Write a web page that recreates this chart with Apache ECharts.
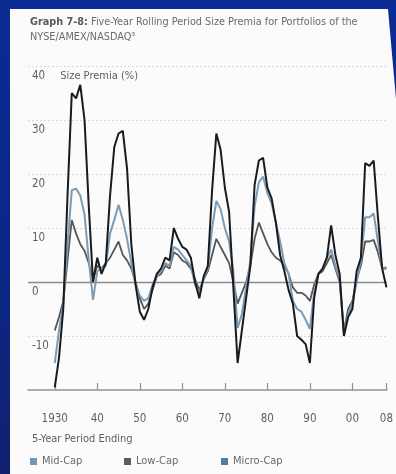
<!DOCTYPE html>
<html>
<head>
<meta charset="utf-8">
<script src="https://cdn.jsdelivr.net/npm/echarts@6/dist/echarts.min.js"></script>
<style>
  html, body { margin: 0; padding: 0; width: 396px; height: 474px; overflow: hidden; }
  #bg { position: absolute; left: 0; top: 0; width: 396px; height: 474px;
        background: linear-gradient(180deg, #0a2b93 0%, #0a2787 55%, #12206f 100%); }
  #panel { position: absolute; left: 10px; top: 9px; width: 386px; height: 465px; background: #fbfbfb;
           clip-path: polygon(0 0, 378px 0, 386px 90px, 386px 100%, 0 100%); }
  #chart { position: absolute; left: 0; top: 0; width: 396px; height: 474px; }
</style>
</head>
<body>
<div id="bg"></div>
<div id="panel"></div>
<div id="chart"></div>
<script>
// Five-year rolling period ending years
const years = [
  1930, 1931, 1932, 1933, 1934, 1935, 1936, 1937, 1938, 1939,
  1940, 1941, 1942, 1943, 1944, 1945, 1946, 1947, 1948, 1949,
  1950, 1951, 1952, 1953, 1954, 1955, 1956, 1957, 1958, 1959,
  1960, 1961, 1962, 1963, 1964, 1965, 1966, 1967, 1968, 1969,
  1970, 1971, 1972, 1973, 1974, 1975, 1976, 1977, 1978, 1979,
  1980, 1981, 1982, 1983, 1984, 1985, 1986, 1987, 1988, 1989,
  1990, 1991, 1992, 1993, 1994, 1995, 1996, 1997, 1998, 1999,
  2000, 2001, 2002, 2003, 2004, 2005, 2006, 2007, 2008
];

// Size premia (%) per portfolio
const microCap = [
  -19.5, -14, -5, 16, 35, 34, 36.5, 30, 14, 0,
  4.5, 1.5, 3.5, 16, 25, 27.5, 28, 21, 7, -0.5,
  -5.5, -7, -5, -1, 1.5, 2.5, 4.5, 4, 10, 8,
  6.5, 6, 4.5, 0, -3, 1, 3, 17, 27.5, 24.5,
  17.5, 13, -1, -15, -9, -3, 3, 18, 22.5, 23,
  17.5, 15.5, 11, 5, 2, -1.5, -4, -10, -10.7, -11.5,
  -15, -3, 1.5, 2.5, 4.5, 10.5, 5, 1.5, -10, -6.5,
  -5, 2, 4.5, 22, 21.5, 22.5, 12, 2.5, -1
];
const lowCap = [
  -15, -9, -4, 7, 17, 17.3, 16, 12.5, 4, -3.3,
  2, 2.5, 3, 9, 11.5, 14.3, 11.5, 8, 3.5, -0.5,
  -2.5, -3.5, -3, -0.5, 1, 2, 3.5, 3, 6.5, 6,
  5, 4, 3, -0.5, -2, 0.5, 2.5, 10, 15, 13.5,
  10, 7.5, 2, -8.5, -6, -1, 4, 14, 18.5, 19.5,
  16.5, 14.5, 11, 7.5, 3.5, 1.5, -3.5, -5, -5.5, -7,
  -8.7, -2, 1.5, 2.5, 4.5, 6, 3, 0.5, -9.5, -6,
  -4, 0, 4, 12, 12, 12.7, 7.5, 2.5, 2.8
];
const midCap = [
  -9, -6.5, -3.5, 4, 11.5, 9, 7, 5.8, 3.5, 0.5,
  3, 2.5, 3.5, 4.5, 6, 7.5, 5, 4, 2.5, 0,
  -3, -5, -4, -1.5, 1, 1.5, 3, 2.5, 5.5, 5,
  4, 3.5, 2.5, 0.5, -1.5, 0.5, 2, 5, 8, 6.5,
  5, 3.5, 0, -4, -2, 0, 3, 8, 11, 9,
  7, 5.5, 4.5, 4, 3, 1.5, -1, -2, -2, -2.5,
  -3.5, -0.5, 1.5, 2, 3.5, 5, 2.5, 0, -9, -5,
  -3.5, 0.5, 3, 7.5, 7.5, 7.8, 5.5, 2.5, 2.5
];

// Axis ticks
const xTickYears = [1930, 1940, 1950, 1960, 1970, 1980, 1990, 2000, 2008];
const xTickLabels = ['1930', '40', '50', '60', '70', '80', '90', '00', '08'];
const yTickValues = [-10, 0, 10, 20, 30, 40];

const FONT = "'Liberation Sans Narrow', 'DejaVu Sans Condensed', 'Roboto', sans-serif";
const TEXT = '#5e5e5e';

const pairs = arr => years.map((y, i) => [y, arr[i]]);

const chart = echarts.init(document.getElementById('chart'), null, { renderer: 'canvas' });

const legendItem = (name, color, left) => ({
  left: left, top: 456, padding: 0,
  icon: 'rect', itemWidth: 7, itemHeight: 7,
  selectedMode: false,
  textStyle: { fontFamily: FONT, fontSize: 11, color: '#6a6a6a' },
  data: [{ name: name, itemStyle: { color: color } }]
});

chart.setOption({
  animation: false,
  backgroundColor: 'transparent',
  textStyle: { fontFamily: FONT },
  title: [
    {
      left: 30, top: 15, padding: 0,
      text: '{b|Graph 7-8:} Five-Year Rolling Period Size Premia for Portfolios of the\nNYSE/AMEX/NASDAQ³',
      textStyle: {
        fontFamily: FONT, fontSize: 10.8, fontWeight: 'normal', color: '#6b6b6b', lineHeight: 15,
        rich: { b: { fontFamily: FONT, fontSize: 10.8, fontWeight: 'bold', color: '#5a5a5a', lineHeight: 15 } }
      }
    },
    {
      left: 32, top: 434, padding: 0,
      text: '5-Year Period Ending',
      textStyle: { fontFamily: FONT, fontSize: 11, fontWeight: 'normal', color: TEXT }
    }
  ],
  legend: [
    legendItem('Mid-Cap', '#6f98ba', 30),
    legendItem('Low-Cap', '#5c5c5c', 124),
    legendItem('Micro-Cap', '#4e7fa8', 221)
  ],
  grid: { left: 28, right: 6, top: 66, bottom: 84, containLabel: false },
  xAxis: {
    type: 'value',
    min: 1923.704,
    max: 2008.116,
    axisLine: { show: true, onZero: false, lineStyle: { color: '#969696', width: 1.5 } },
    axisTick: {
      show: true, inside: true, length: 7, customValues: xTickYears,
      lineStyle: { color: '#8f8f8f', width: 1.2 }
    },
    axisLabel: {
      show: true, customValues: xTickYears, margin: 23,
      fontFamily: FONT, fontSize: 11.5, color: TEXT,
      formatter: v => xTickLabels[xTickYears.indexOf(v)]
    },
    splitLine: { show: false }
  },
  yAxis: {
    type: 'value',
    min: -20, max: 40, interval: 10,
    axisLine: { show: false },
    axisTick: { show: false },
    axisLabel: {
      show: true, inside: true, margin: 4, customValues: yTickValues,
      verticalAlign: 'top', padding: [4, 0, 0, 0],
      fontFamily: FONT, fontSize: 11.5, color: TEXT,
      formatter: v => v === 40 ? '{n|40}{t|Size Premia (%)}' : String(v),
      rich: {
        n: { fontFamily: FONT, fontSize: 11.5, color: TEXT },
        t: { fontFamily: FONT, fontSize: 11, color: TEXT, padding: [0, 0, 0, 15] }
      }
    },
    splitLine: { show: true, lineStyle: { type: [2, 2], color: '#dadada', width: 1 } }
  },
  series: [
    {
      name: 'Mid-Cap', type: 'line', data: pairs(midCap),
      symbol: 'none', z: 3,
      lineStyle: { color: '#565656', width: 1.8 },
      itemStyle: { color: '#565656' },
      markLine: {
        silent: true, symbol: ['none', 'none'], label: { show: false },
        lineStyle: { color: '#8a8a8a', width: 1.3, type: 'solid' },
        data: [{ yAxis: 0 }]
      }
    },
    {
      name: 'Low-Cap', type: 'line', data: pairs(lowCap),
      symbol: 'none', z: 4,
      lineStyle: { color: '#7d9bb4', width: 2 },
      itemStyle: { color: '#7d9bb4' }
    },
    {
      name: 'Micro-Cap', type: 'line', data: pairs(microCap),
      symbol: 'none', z: 5,
      lineStyle: { color: '#1b1b1f', width: 2 },
      itemStyle: { color: '#1b1b1f' }
    }
  ]
});
</script>
</body>
</html>
